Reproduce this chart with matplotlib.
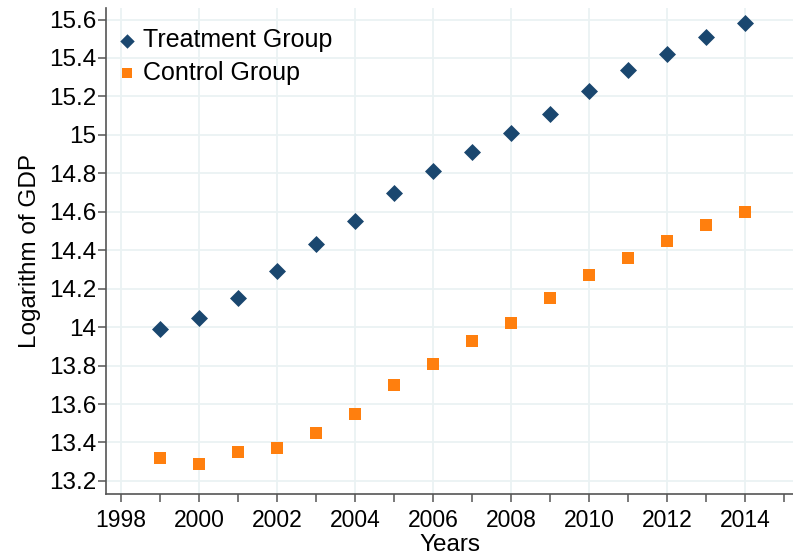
import matplotlib
matplotlib.use("Agg")
import matplotlib.pyplot as plt
from matplotlib.ticker import MultipleLocator

years = [1999, 2000, 2001, 2002, 2003, 2004, 2005, 2006, 2007, 2008, 2009, 2010, 2011, 2012, 2013, 2014]
treatment = [13.99, 14.05, 14.15, 14.29, 14.43, 14.55, 14.70, 14.81, 14.91, 15.01, 15.11, 15.23, 15.34, 15.42, 15.51, 15.58]
control = [13.32, 13.29, 13.35, 13.37, 13.45, 13.55, 13.70, 13.81, 13.93, 14.02, 14.15, 14.27, 14.36, 14.45, 14.53, 14.60]
yticks = [13.2, 13.4, 13.6, 13.8, 14, 14.2, 14.4, 14.6, 14.8, 15, 15.2, 15.4, 15.6]
ytick_labels = ["13.2", "13.4", "13.6", "13.8", "14", "14.2", "14.4", "14.6", "14.8", "15", "15.2", "15.4", "15.6"]
xticks = [1998, 2000, 2002, 2004, 2006, 2008, 2010, 2012, 2014]

plt.rcParams['font.family'] = ['Liberation Sans', 'DejaVu Sans']

fig = plt.figure(figsize=(7.93, 5.58), dpi=100)
ax = fig.add_axes([0.1337, 0.1147, 0.8663, 0.871])

ax.scatter(years, treatment, marker='D', s=75, color='#1a476f', label='Treatment Group', zorder=3, linewidths=0)
ax.scatter(years, control, marker='s', s=75, color='#ff7f0e', label='Control Group', zorder=3, linewidths=0)

ax.set_xlim(1997.62, 2015.23)
ax.set_ylim(13.132, 15.66)
ax.set_xticks(xticks)
ax.xaxis.set_minor_locator(MultipleLocator(1))
ax.set_yticks(yticks)
ax.set_yticklabels(ytick_labels)

ax.grid(True, which='major', color='#eaf2f3', linewidth=1.3, zorder=0)
ax.set_axisbelow(True)

for s in ['top', 'right']:
    ax.spines[s].set_visible(False)
for s in ['left', 'bottom']:
    ax.spines[s].set_color('#555555')
    ax.spines[s].set_linewidth(1.2)

ax.tick_params(axis='both', which='major', direction='out', length=6, color='#555555', width=1.1, labelcolor='#000000')
ax.tick_params(axis='y', which='major', labelsize=17.5, pad=1)
ax.tick_params(axis='x', which='major', labelsize=16.5, pad=5)
ax.tick_params(axis='x', which='minor', direction='out', length=6, color='#555555', width=1.1)

ax.set_xlabel('Years', fontsize=17.5, labelpad=1.5)
ax.set_ylabel('Logarithm of GDP', fontsize=17.5, labelpad=6)

leg = ax.legend(loc='upper left', bbox_to_anchor=(-0.012, 0.992), frameon=False, fontsize=18,
                handletextpad=0.15, borderaxespad=0.35, labelspacing=0.35, handlelength=1.0,
                markerscale=0.85, borderpad=0.3)

fig.savefig('out.png', dpi=100)
